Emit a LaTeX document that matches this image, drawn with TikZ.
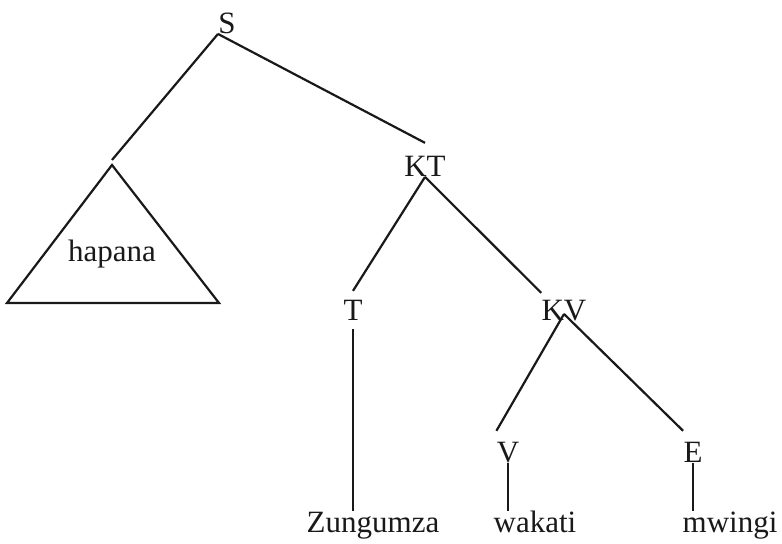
\documentclass[tikz,border=0pt]{standalone}
\usepackage{fontspec}
\setmainfont{Liberation Serif}
\usetikzlibrary{positioning}

\begin{document}
\begin{tikzpicture}[
        catnode/.style={inner sep=0pt, text=black!90, text height=10.85pt, text depth=3.9pt, font=\fontsize{15.5pt}{18pt}\selectfont},
        wordnode/.style={catnode},
        branch/.style={line width=1.1pt, draw=black!90},
        on grid,
]
        \useasboundingbox (-113.5pt,-258.5pt) rectangle (277.5pt,13.5pt);
        \node[catnode] (S) {S};
        \node[wordnode] (hapana) [below left=114pt and 57.5pt of S] {hapana};
        \node[catnode] (KT) [below right=71.5pt and 99pt of S] {KT};
        \node[catnode] (T) [below left=72pt and 36pt of KT] {T};
        \node[catnode] (KV) [below right=72pt and 69.5pt of KT] {KV};
        \node[catnode] (V) [below left=71pt and 28pt of KV] {V};
        \node[catnode] (E) [below right=71pt and 64.5pt of KV] {E};
        \node[wordnode] (Zungumza) [below right=106pt and 10pt of T] {Zungumza};
        \node[wordnode] (wakati) [below right=35pt and 13.5pt of V] {wakati};
        \node[wordnode] (mwingi) [below right=35pt and 18.5pt of E] {mwingi};

        \coordinate (tritop) at ([yshift=45pt]hapana.center);
        \coordinate (trileft) at ([shift={(-52.5pt,-24pt)}]hapana.center);
        \coordinate (triright) at ([shift={(53.5pt,-24pt)}]hapana.center);

        \draw[branch] (tritop) -- (trileft) -- (triright) -- cycle;
        \draw[branch] (S.base west) -- ([yshift=2.5pt]tritop);
        \draw[branch] (S.base west) -- ([yshift=6pt]KT.north);
        \draw[branch] (KT.base) -- ([yshift=4pt]T.north);
        \draw[branch] (KT.base) -- ([yshift=3pt]KV.north west);
        \draw[branch] (T.south) -- (T.south |- Zungumza.north);
        \draw[branch] (KV.center) -- ([yshift=5pt]V.north west);
        \draw[branch] (KV.center) -- ([yshift=5pt]E.north west);
        \draw[branch] (V.base) -- (V.base |- wakati.north);
        \draw[branch] (E.base) -- (E.base |- mwingi.north);
\end{tikzpicture}
\end{document}
